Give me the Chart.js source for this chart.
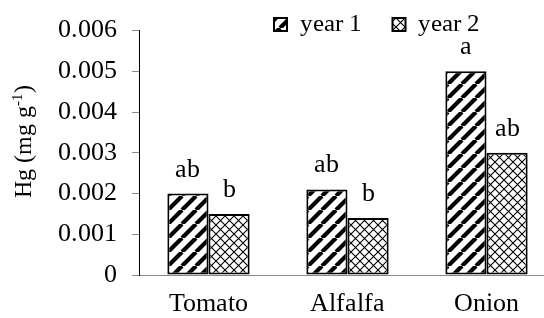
<!DOCTYPE html>
<html><head><meta charset="utf-8">
<script src="https://cdn.jsdelivr.net/npm/chart.js@4"></script>
<style>
@font-face { font-family: 'SerifX'; src: local('Liberation Serif'), local('LiberationSerif'), local('LiberationSerif-Regular'), local('Liberation Serif Regular'), local('Times New Roman'), local('DejaVu Serif'); }
html,body{margin:0;padding:0;overflow:hidden;background:#fff}
#wrap{width:556px;height:318px;position:relative}
</style>
</head><body><div id="wrap"><canvas id="c" width="556" height="318"></canvas></div>
<script>
const categories = ['Tomato', 'Alfalfa', 'Onion'];
const seriesNames = ['year 1', 'year 2'];
const year1 = [0.0020, 0.0021, 0.0050];
const year2 = [0.0015, 0.0014, 0.0030];
const letters1 = ['ab', 'ab', 'a'];
const letters2 = ['b', 'b', 'ab'];
const yTicks = [0, 0.001, 0.002, 0.003, 0.004, 0.005, 0.006];
const yTitleMain = 'Hg (mg g';
const yTitleSup = '-1';
const yTitleEnd = ')';

const F = 'SerifX, "Liberation Serif", "Times New Roman", "DejaVu Serif", serif';
const canvas = document.getElementById('c');
const ctx = canvas.getContext('2d');

function stripes() {
  const s = 14, c = document.createElement('canvas');
  c.width = c.height = s;
  const x = c.getContext('2d');
  x.fillStyle = '#fff'; x.fillRect(0, 0, s, s);
  x.strokeStyle = '#000'; x.lineWidth = 4.2;
  x.beginPath();
  for (const o of [-s, 0, s]) { x.moveTo(o, s); x.lineTo(o + s, 0); }
  x.stroke();
  return ctx.createPattern(c, 'repeat');
}
function cross() {
  const s = 9, c = document.createElement('canvas');
  c.width = c.height = s;
  const x = c.getContext('2d');
  x.fillStyle = '#fff'; x.fillRect(0, 0, s, s);
  x.strokeStyle = '#000'; x.lineWidth = 1.1;
  x.beginPath();
  x.moveTo(0, 0); x.lineTo(s, s);
  x.moveTo(0, s); x.lineTo(s, 0);
  x.stroke();
  return ctx.createPattern(c, 'repeat');
}

const helperPlugin = {
  id: 'helper',
  beforeUpdate(chart) {
    const lg = chart.legend;
    if (lg && !lg._patched) {
      const of = lg.fit;
      lg.fit = function () { of.call(this); this._fullH = this.height; this.height = 0; };
      lg._patched = true;
    }
  },
  afterLayout(chart) {
    const lg = chart.legend;
    if (lg) {
      const w = lg.width, h = lg._fullH || 80;
      lg.left = 243; lg.right = 243 + w;
      lg.top = -19; lg.bottom = -19 + h;
    }
  },
  afterDatasetsDraw(chart) {
    const c = chart.ctx;
    c.save();
    c.font = '26px ' + F;
    c.fillStyle = '#000';
    c.textAlign = 'center';
    c.textBaseline = 'alphabetic';
    [letters1, letters2].forEach((arr, di) => {
      chart.getDatasetMeta(di).data.forEach((bar, i) => {
        c.fillText(arr[i], bar.x, bar.y - 17);
      });
    });
    c.restore();
  },
  afterDraw(chart) {
    const c = chart.ctx;
    c.save();
    c.fillStyle = '#000';
    c.textBaseline = 'alphabetic';
    c.textAlign = 'left';
    const big = '24px ' + F, small = '15px ' + F;
    c.font = big; const w1 = c.measureText(yTitleMain).width; const w3 = c.measureText(yTitleEnd).width;
    c.font = small; const w2 = c.measureText(yTitleSup).width;
    const total = w1 + w2 + w3;
    c.translate(31, 141);
    c.rotate(-Math.PI / 2);
    let x = -total / 2;
    c.font = big; c.fillText(yTitleMain, x, 0); x += w1;
    c.font = small; c.fillText(yTitleSup, x, -9); x += w2;
    c.font = big; c.fillText(yTitleEnd, x, 0);
    c.restore();
  }
};

function draw() {
  new Chart(canvas, {
    type: 'bar',
    data: {
      labels: categories,
      datasets: [
        { label: seriesNames[0], data: year1, backgroundColor: stripes(), borderColor: '#000', borderWidth: 2, borderSkipped: false },
        { label: seriesNames[1], data: year2, backgroundColor: cross(), borderColor: '#000', borderWidth: 2, borderSkipped: false }
      ]
    },
    options: {
      responsive: false,
      animation: false,
      devicePixelRatio: 1,
      layout: { padding: { top: 27, left: 0, right: 0, bottom: 0 } },
      datasets: { bar: { categoryPercentage: 0.592, barPercentage: 1 } },
      plugins: {
        legend: {
          position: 'top', align: 'start',
          labels: { boxWidth: 13, boxHeight: 13, padding: 31, color: '#000', font: { family: F, size: 25 } }
        },
        tooltip: { enabled: false },
        title: { display: false }
      },
      scales: {
        x: {
          grid: { display: false, drawTicks: false },
          border: { display: true, color: '#898989', width: 1 },
          ticks: { color: '#000', font: { family: F, size: 26 }, padding: 14 },
          afterFit: s => { s.height = 43; }
        },
        y: {
          min: 0, max: 0.006,
          afterBuildTicks: s => { s.ticks = yTicks.map(v => ({ value: v })); },
          grid: { drawOnChartArea: false, drawTicks: true, tickLength: 7, color: '#888' },
          border: { display: true, color: '#000', width: 1 },
          ticks: { color: '#000', font: { family: F, size: 26 }, padding: 15,
            callback: v => (v === 0 ? '0' : Number(v).toFixed(3)) },
          afterFit: s => { s.width = 139; }
        }
      }
    },
    plugins: [helperPlugin]
  });
}

let done = false;
function go() { if (!done) { done = true; draw(); } }
if (document.fonts && document.fonts.load) {
  document.fonts.load('26px SerifX').then(go, go);
  setTimeout(go, 1500);
} else { go(); }
</script></body></html>
